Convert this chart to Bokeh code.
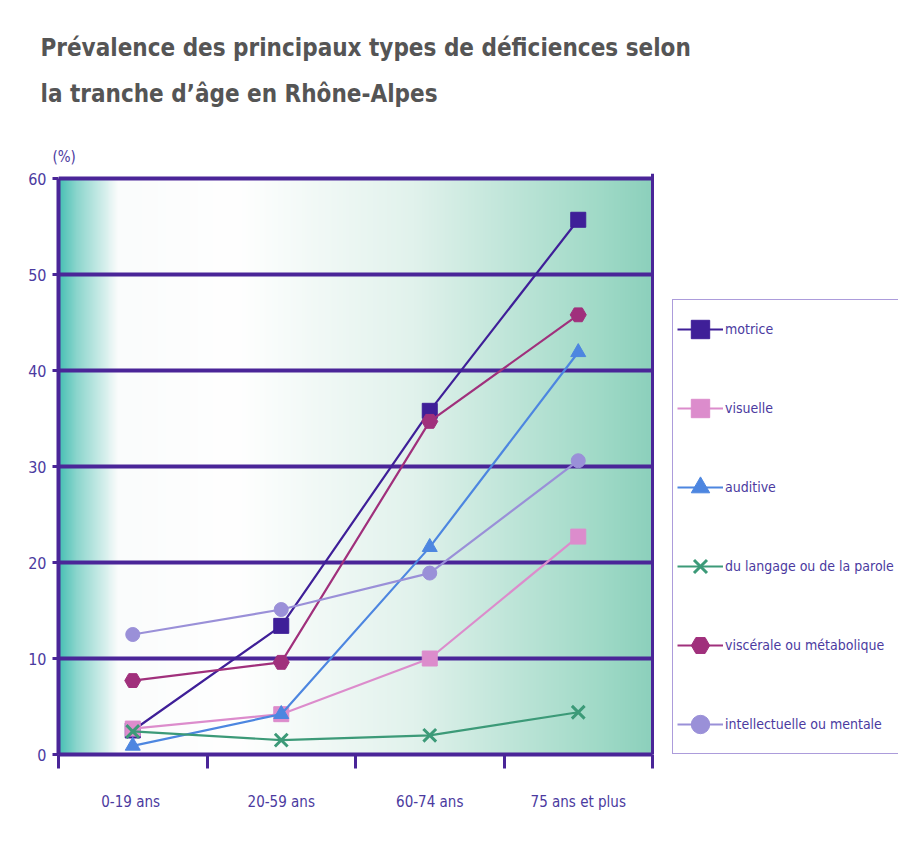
import numpy as np
from bokeh.plotting import figure
from bokeh.models import (FixedTicker, Range1d, Legend, LegendItem, Title, Span)
from bokeh.embed import file_html
from bokeh.resources import INLINE

# ---------------- data ----------------
categories = ["0-19  ans", "20-59 ans", "60-74 ans", "75 ans et plus"]
motrice = [2.5, 13.4, 35.8, 55.7]
visuelle = [2.7, 4.2, 10.0, 22.7]
auditive = [0.9, 4.2, 21.6, 41.9]
langage = [2.4, 1.5, 2.0, 4.4]
viscerale = [7.7, 9.6, 34.7, 45.8]
intellectuelle = [12.5, 15.1, 18.9, 30.6]
y_ticks = [0, 10, 20, 30, 40, 50, 60]

series = [
    ("motrice", motrice, "#3f1f98", "square", 15),
    ("visuelle", visuelle, "#dc8ccc", "square", 15),
    ("auditive", auditive, "#4d86e0", "triangle", 15),
    ("du langage ou de la parole", langage, "#3c9a78", "x", 18),
    ("viscérale ou métabolique", viscerale, "#a0307c", "hex", 16),
    ("intellectuelle ou mentale", intellectuelle, "#9a90d8", "circle", 14),
]

# ---------------- layout ----------------
W, H = 898, 843
FL, FT, FB = 58, 173, 754          # frame left / top / bottom (px)
CAT_W = 148.5                      # px per category band
PX_PER_UNIT = 9.6                  # px per percentage point
NCAT = len(categories)
YMAX = y_ticks[-1]
X_END = (W - FL) / CAT_W           # frame runs to the right edge (legend area)
Y_END = (FB - FT) / PX_PER_UNIT

PURPLE = "#4a2598"
TXT = "#4b3aa0"
FONT = ("'Liberation Sans Narrow', 'Arial Narrow', 'DejaVu Sans Condensed', "
        "'Roboto Condensed', 'Noto Sans Condensed', 'Liberation Sans', sans-serif")

p = figure(width=W, height=H, output_backend="svg", toolbar_location=None,
           x_range=Range1d(0, X_END), y_range=Range1d(0, Y_END),
           min_border_left=FL, min_border_right=0,
           min_border_top=FT, min_border_bottom=H - FB)
p.title.visible = False
p.background_fill_color = "white"
p.border_fill_color = "white"
p.outline_line_color = None

# background gradient inside the chart area
N = 600
f = np.linspace(0, 1, N)
stops_f = [0.0, 0.03, 0.10, 0.30, 0.60, 0.92, 1.0]
stops_c = np.array([
    [70, 192, 180], [140, 214, 205], [250, 252, 252], [255, 255, 255],
    [225, 242, 236], [158, 217, 198], [140, 208, 188]])
img = np.zeros((1, N), dtype=np.uint32)
view = img.view(dtype=np.uint8).reshape((1, N, 4))
for k in range(3):
    view[0, :, k] = np.interp(f, stops_f, stops_c[:, k]).astype(np.uint8)
view[0, :, 3] = 255
p.image_rgba(image=[img], x=0, y=0, dw=NCAT, dh=YMAX, level="image")

# grid (limited to the chart area)
p.xgrid.visible = False
p.ygrid.ticker = FixedTicker(ticks=y_ticks)
p.ygrid.cross_bounds = (0, NCAT)
p.ygrid.grid_line_color = PURPLE
p.ygrid.grid_line_width = 4

# right border of the chart area
p.add_layout(Span(location=NCAT, dimension="height", line_color=PURPLE,
                  line_width=3, level="underlay"))

# axes
xpos = [i + 0.5 for i in range(NCAT)]
p.xaxis.ticker = FixedTicker(ticks=xpos, minor_ticks=list(range(NCAT + 1)))
p.xaxis.bounds = (0, NCAT)
p.xaxis.major_label_overrides = {x: c for x, c in zip(xpos, categories)}
p.xaxis.major_tick_line_color = None
p.xaxis.major_tick_out = 0
p.xaxis.major_tick_in = 0
p.xaxis.minor_tick_line_color = PURPLE
p.xaxis.minor_tick_line_width = 3
p.xaxis.minor_tick_out = 14
p.xaxis.minor_tick_in = 0
p.xaxis.major_label_standoff = 24
p.xaxis.major_label_text_font_size = "15px"

p.yaxis.ticker = FixedTicker(ticks=y_ticks)
p.yaxis.bounds = (0, YMAX)
p.yaxis.major_tick_out = 6
p.yaxis.major_tick_in = 0
p.yaxis.major_tick_line_width = 3
p.yaxis.major_tick_line_color = PURPLE
p.yaxis.minor_tick_line_color = None
p.yaxis.major_label_standoff = 6
p.yaxis.major_label_text_font_size = "16px"

for ax in (p.xaxis[0], p.yaxis[0]):
    ax.axis_line_color = PURPLE
    ax.axis_line_width = 4
    ax.major_label_text_color = TXT
    ax.major_label_text_font = FONT

# series
items = []
for name, vals, col, marker, size in series:
    ln = p.line(xpos, vals, line_color=col, line_width=2.2)
    sc = p.scatter(xpos, vals, marker=marker, size=size, fill_color=col,
                   line_color=col, line_width=3 if marker == "x" else 1)
    items.append(LegendItem(label=name, renderers=[ln, sc]))

legend = Legend(items=items, location=(614, 0),
                orientation="vertical", glyph_width=46, glyph_height=50,
                label_height=50, spacing=29, padding=4, label_standoff=2,
                label_text_font=FONT, label_text_font_size="14px",
                label_text_color=TXT, border_line_color="#5a3ab8",
                border_line_width=1.5, background_fill_color="white",
                background_fill_alpha=1, margin=0)
p.add_layout(legend, "center")

# titles, stacked outward from the frame: unit label, then the two-line title
p.add_layout(Title(text="(%)", align="left", offset=-6, standoff=16,
                   text_font=FONT, text_font_size="15px", text_font_style="normal",
                   text_color=TXT), "above")
p.add_layout(Title(text="Prévalence des principaux types de déficiences selon\n"
                        "la tranche d’âge en Rhône-Alpes",
                   align="left", offset=-18, standoff=59, text_font=FONT,
                   text_font_size="24px", text_line_height=1.64,
                   text_font_style="bold", text_color="#555555"), "above")

open("out.html", "w").write(file_html(p, INLINE))
